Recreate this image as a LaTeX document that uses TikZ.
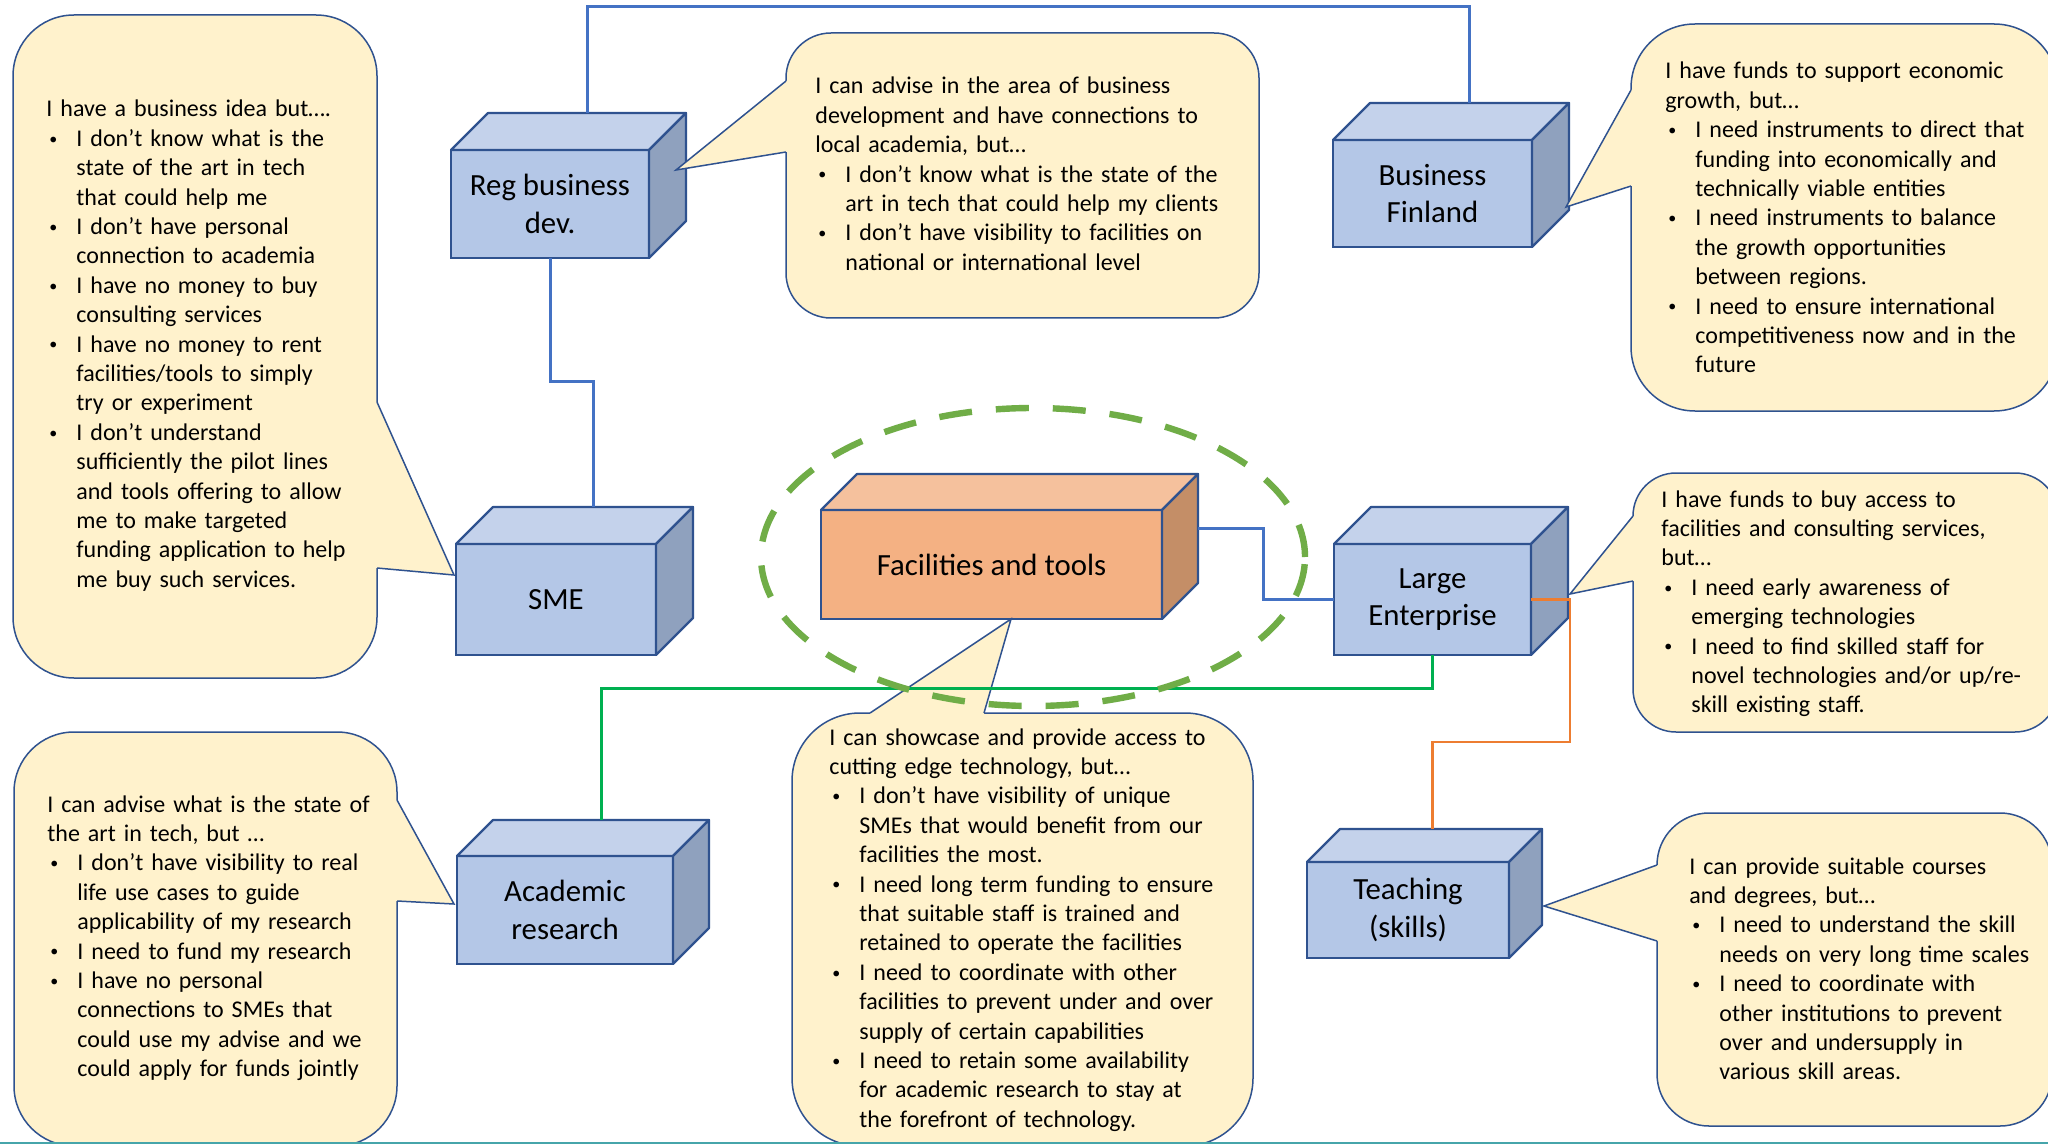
\documentclass[tikz,border=0pt]{standalone}
\usepackage{fontspec}
\setmainfont{Carlito}
\usetikzlibrary{calc}
\definecolor{bfront}{RGB}{180,199,231}
\definecolor{btop}{RGB}{196,210,235}
\definecolor{bside}{RGB}{143,161,190}
\definecolor{ofront}{RGB}{244,177,131}
\definecolor{otop}{RGB}{245,193,157}
\definecolor{oside}{RGB}{196,142,103}
\definecolor{rimblue}{RGB}{47,82,143}
\definecolor{notefill}{RGB}{255,242,204}
\definecolor{lblue}{RGB}{68,114,196}
\definecolor{lgreen}{RGB}{0,176,80}
\definecolor{lorange}{RGB}{237,125,49}
\definecolor{ringgreen}{RGB}{112,173,71}
\definecolor{slidebar}{RGB}{70,165,170}
\newcommand\callfont{\fontsize{12}{14.7}\selectfont}
\newcommand\boxfont{\fontsize{15.4}{18.6}\selectfont}
\newcommand\bitem{\makebox[15pt][l]{\hspace{1.5pt}\raisebox{1.1pt}{\fontsize{8}{8}\selectfont •}}}
\newcommand\bcont{\hspace*{15pt}}
% #1 name, #2 x1, #3 y1, #4 x2, #5 y2, #6 depth, #7 text, #8 colour prefix
\newcommand\drawcube[8]{%
  \node[cubefront, fill=#8front, minimum width={(#4-#2)*0.5pt}, minimum height={(#5-#3)*0.5pt}] (#1) at ({(#2+#4)/2},{(#3+#5)/2}) {#7};
  \filldraw[cubeface, fill=#8top] (#1.north west) -- ++(#6,-#6) -- ++({#4-#2},0) -- (#1.north east) -- cycle;
  \filldraw[cubeface, fill=#8side] (#1.north east) -- ++(#6,-#6) -- ++(0,{#5-#3}) -- (#1.south east) -- cycle;
  \coordinate (#1-bt) at ($(#1.north)+(#6,-#6)$);
  \coordinate (#1-br) at ($(#1.east)+(#6,-#6)$);
}
% #1 name, #2 x1, #3 y1, #4 x2, #5 y2, #6 radius
\newcommand\drawcallout[6]{%
  \node[callout, rounded corners=#6, minimum width={(#4-#2)*0.5pt}, minimum height={(#5-#3)*0.5pt}] (#1) at ({(#2+#4)/2},{(#3+#5)/2}) {};
}
% #1 base a, #2 tip, #3 base b, #4 inward offset
\newcommand\calloutptr[4]{%
  \fill[notefill] ($(#1)+#4$) -- (#1) -- (#2) -- (#3) -- ($(#3)+#4$) -- cycle;
  \draw[noteline] (#1) -- (#2) -- (#3);
}
\begin{document}
\begin{tikzpicture}[x=0.5pt,y=-0.5pt,
  cubefront/.style={draw=rimblue, line width=1.1pt, inner sep=0pt, outer sep=0pt, align=center, font=\boxfont, text=black},
  cubeface/.style={draw=rimblue, line width=1.1pt, line join=round},
  callout/.style={draw=rimblue, fill=notefill, line width=0.75pt, inner sep=0pt, outer sep=0pt},
  noteline/.style={draw=rimblue, line width=0.75pt, line join=miter},
  notetext/.style={font=\callfont, text width=240pt, align=left, inner sep=0pt, anchor=base west, text=black},
  conn/.style={draw=#1, line width=1.5pt},
]
\fill[white] (0,0) rectangle (2048,1144);
\useasboundingbox (0,0) rectangle (2048,1144);
\begin{scope}
\clip (0,0) rectangle (2048,1144);

% boxes
\drawcube{Reg}{451}{150}{649}{258}{37}{Reg business\\dev.}{b}
\drawcube{SME}{456}{544}{656}{655}{37}{SME}{b}
\drawcube{BF}{1333}{140}{1532}{247}{37}{Business\\Finland}{b}
\drawcube{LE}{1334}{544}{1531}{655}{37}{Large\\Enterprise}{b}
\drawcube{Fac}{821}{510}{1162}{619}{36}{Facilities and tools}{o}
\drawcube{Acad}{457}{856}{673}{964}{36}{Academic\\research}{b}
\drawcube{Teach}{1307}{862}{1509}{958}{33}{Teaching\\(skills)}{b}

% callouts
\drawcallout{cSME}{13}{15}{377}{678}{30.5pt}
\coordinate (p1a) at (377,402); \coordinate (p1t) at (454,575); \coordinate (p1b) at (377,568);
\calloutptr{p1a}{p1t}{p1b}{(-3,0)}

\drawcallout{cReg}{786}{33}{1259}{318}{22.5pt}
\coordinate (p2a) at (786,81); \coordinate (p2t) at (676,170); \coordinate (p2b) at (786,152);
\calloutptr{p2a}{p2t}{p2b}{(3,0)}

\drawcallout{cBF}{1631}{24}{2058}{411}{32pt}
\coordinate (p3a) at (1631,90); \coordinate (p3t) at (1566,207); \coordinate (p3b) at (1631,186);
\calloutptr{p3a}{p3t}{p3b}{(3,0)}

\drawcallout{cLE}{1633}{473}{2058}{732}{21.5pt}
\coordinate (p4a) at (1633,516); \coordinate (p4t) at (1570,594); \coordinate (p4b) at (1633,581);
\calloutptr{p4a}{p4t}{p4b}{(3,0)}

\drawcallout{cTeach}{1657}{813}{2052}{1126}{26pt}
\coordinate (p5a) at (1657,865); \coordinate (p5t) at (1544,906); \coordinate (p5b) at (1657,941);
\calloutptr{p5a}{p5t}{p5b}{(3,0)}

\drawcallout{cAcad}{14}{732}{397}{1146}{30pt}
\coordinate (p6a) at (397,800); \coordinate (p6t) at (454,904); \coordinate (p6b) at (397,901);
\calloutptr{p6a}{p6t}{p6b}{(-3,0)}

\drawcallout{cFac}{792}{713}{1253}{1146}{34pt}
\coordinate (p7a) at (870,713); \coordinate (p7t) at (1011,619); \coordinate (p7b) at (984,713);
\calloutptr{p7a}{p7t}{p7b}{(0,3)}

% callout texts
\node[notetext] (tSME) at (46,117) {I have a business idea but….\\
\bitem I don’t know what is the\\
\bcont state of the art in tech\\
\bcont that could help me\\
\bitem I don’t have personal\\
\bcont connection to academia\\
\bitem I have no money to buy\\
\bcont consulting services\\
\bitem I have no money to rent\\
\bcont facilities/tools to simply\\
\bcont try or experiment\\
\bitem I don’t understand\\
\bcont sufficiently the pilot lines\\
\bcont and tools offering to allow\\
\bcont me to make targeted\\
\bcont funding application to help\\
\bcont me buy such services.};

\node[notetext] (tReg) at (815,94) {I can advise in the area of business\\
development and have connections to\\
local academia, but…\\
\bitem I don’t know what is the state of the\\
\bcont art in tech that could help my clients\\
\bitem I don’t have visibility to facilities on\\
\bcont national or international level};

\node[notetext] (tBF) at (1665,79) {I have funds to support economic\\
growth, but…\\
\bitem I need instruments to direct that\\
\bcont funding into economically and\\
\bcont technically viable entities\\
\bitem I need instruments to balance\\
\bcont the growth opportunities\\
\bcont between regions.\\
\bitem I need to ensure international\\
\bcont competitiveness now and in the\\
\bcont future};

\node[notetext] (tLE) at (1661,507) {I have funds to buy access to\\
facilities and consulting services,\\
but…\\
\bitem I need early awareness of\\
\bcont emerging technologies\\
\bitem I need to find skilled staff for\\
\bcont novel technologies and/or up/re-\\
\bcont skill existing staff.};

\node[notetext] (tTeach) at (1689,874) {I can provide suitable courses\\
and degrees, but…\\
\bitem I need to understand the skill\\
\bcont needs on very long time scales\\
\bitem I need to coordinate with\\
\bcont other institutions to prevent\\
\bcont over and undersupply in\\
\bcont various skill areas.};

\node[notetext] (tAcad) at (47,812) {I can advise what is the state of\\
the art in tech, but …\\
\bitem I don’t have visibility to real\\
\bcont life use cases to guide\\
\bcont applicability of my research\\
\bitem I need to fund my research\\
\bitem I have no personal\\
\bcont connections to SMEs that\\
\bcont could use my advise and we\\
\bcont could apply for funds jointly};

\node[notetext] (tFac) at (829,745) {I can showcase and provide access to\\
cutting edge technology, but…\\
\bitem I don’t have visibility of unique\\
\bcont SMEs that would benefit from our\\
\bcont facilities the most.\\
\bitem I need long term funding to ensure\\
\bcont that suitable staff is trained and\\
\bcont retained to operate the facilities\\
\bitem I need to coordinate with other\\
\bcont facilities to prevent under and over\\
\bcont supply of certain capabilities\\
\bitem I need to retain some availability\\
\bcont for academic research to stay at\\
\bcont the forefront of technology.};

% connectors
\coordinate (topy) at (0,7);
\draw[conn=lblue] (Reg-bt) -- (Reg-bt |- topy) -| (BF-bt);
\draw[conn=lblue] (Reg.south) -- ++(0,123) -| (SME-bt);
\draw[conn=lblue] (Fac-br) -- ++(65,0) |- (LE.west);
\draw[conn=lgreen] (LE.south) -- ++(0,33) -| (Acad-bt);
\coordinate (oturn) at ($(LE.south)+(0,87)$);
\draw[draw=lorange, line width=1.2pt] (LE.east) -- ++(39,0) |- (oturn) -- (oturn |- Teach-bt);

% dashed ring round the facilities
\draw[ringgreen, line width=3.2pt, dash pattern=on 16.5pt off 12pt] (1033,557) ellipse [x radius=136pt, y radius=74.5pt];

% slide edge
\draw[slidebar, line width=1pt] (0,1143) -- (2048,1143);
\end{scope}
\end{tikzpicture}
\end{document}
